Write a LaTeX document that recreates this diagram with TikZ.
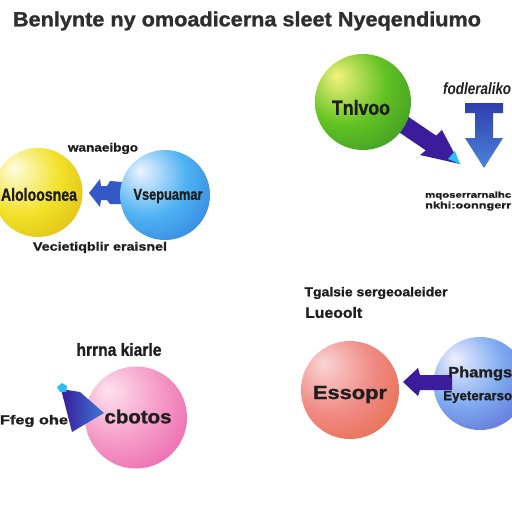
\documentclass[tikz,border=0pt]{standalone}
\usepackage{fontspec}
\setmainfont{Liberation Sans}[BoldFeatures={FakeBold=1.2}]
\usepackage{graphicx}
\colorlet{sphA}{white}
\colorlet{sphB}{gray}
\colorlet{sphC}{black}
\pgfdeclareradialshading[sphA,sphB,sphC]{sphere}{\pgfpoint{-14bp}{14bp}}{color(0bp)=(sphA); color(22bp)=(sphB); color(54bp)=(sphC); color(75bp)=(sphC)}
\definecolor{txt}{HTML}{1E1E1E}
\definecolor{arrpurple}{HTML}{3B1D9C}
\definecolor{arrblue}{HTML}{3558C8}
\definecolor{tipcyan}{HTML}{28C0EE}
\definecolor{yelA}{HTML}{FFFCE0}\definecolor{yelB}{HTML}{F2E22A}\definecolor{yelC}{HTML}{CFA300}
\definecolor{bluA}{HTML}{EEF4FF}\definecolor{bluB}{HTML}{4EB2F2}\definecolor{bluC}{HTML}{1E5FCF}
\definecolor{grnA}{HTML}{F4F27E}\definecolor{grnB}{HTML}{62C222}\definecolor{grnC}{HTML}{1F7A2A}
\definecolor{pnkA}{HTML}{FDE2EE}\definecolor{pnkB}{HTML}{F59AC6}\definecolor{pnkC}{HTML}{E23C9E}
\definecolor{orgA}{HTML}{F9D4D4}\definecolor{orgB}{HTML}{F08A84}\definecolor{orgC}{HTML}{E2561E}
\definecolor{vioA}{HTML}{EEEEFF}\definecolor{vioB}{HTML}{7EAAF0}\definecolor{vioC}{HTML}{4A3EC2}
\definecolor{dnTop}{HTML}{2F3DAE}\definecolor{dnBot}{HTML}{4C84DA}
\definecolor{fanL}{HTML}{3A1A9A}\definecolor{fanR}{HTML}{3A7AD8}
\newcommand\fitw[2]{\resizebox{#1pt}{!}{#2}}
\newcommand\fitwh[3]{\resizebox*{#1pt}{#2pt}{#3}}
\tikzset{
  sph/.style n args={2}{circle, inner sep=0pt, minimum size=#1,
    /utils/exec={\colorlet{sphA}{#2A}\colorlet{sphB}{#2B}\colorlet{sphC}{#2C}},
    shading=sphere},
  lbl/.style={font=\bfseries, text=txt, inner sep=0pt},
}
\begin{document}
\begin{tikzpicture}[x=1pt,y=-1pt]
\useasboundingbox[fill=white] (0,0) rectangle (512,512);

% title
\node[lbl, text=black!82] (title) at (247,21) {\fitwh{468}{19}{Benlynte ny omoadicerna sleet Nyeqendiumo}};

% ---- top left group
\fill[arrblue] (89,193) -- (100,179) -- (101,186) -- (107,186) -- (110,181) -- (122,182)
  -- (122,204) -- (110,204) -- (107,200) -- (101,200) -- (100,207) -- cycle;
\node[sph={89pt}{yel}] (yel) at (38,192.5) {};
\node[sph={90pt}{blu}] (blu) at (165,195) {};
\node[lbl] (yeltxt) at (39,194.5) {\fitwh{76}{13}{Aloloosnea}};
\node[lbl] (blutxt) at (168,196) {\fitwh{69}{14}{Vsepuamar}};
\node[lbl] (toplbl) at (103,148.5) {\fitwh{70}{11}{wanaeibgo}};
\node[lbl] (botlbl) at (100,247.5) {\fitwh{134}{11}{Vecietiqblir eraisnel}};

% ---- top right group
\fill[arrpurple] (394.9,129.4) -- (405.1,114.6) -- (436.1,135.6) -- (442,130) -- (460,164)
  -- (420,155) -- (425.9,150.4) -- cycle;
\fill[tipcyan] (448,159) -- (455,151) -- (460,164) -- cycle;
\node[sph={96pt}{grn}] (grn) at (363,102) {};
\node[lbl] (grntxt) at (361,107.5) {\fitwh{58}{15}{Tnlvoo}};
\shade[top color=dnTop, bottom color=dnBot]
  (465,103) -- (503,103) -- (503,113) -- (493,113) -- (493,138) -- (503,138)
  -- (484,168) -- (465,138) -- (475,138) -- (475,113) -- (465,113) -- cycle;
\node[lbl, anchor=west] (rlbl) at (443,89) {\fitwh{68}{12}{\itshape fodleraliko}};
\node[lbl, anchor=west] (rl1) at (425,195.5) {\fitwh{86}{8}{mqoserrarnalhc}};
\node[lbl, anchor=west] (rl2) at (425,206) {\fitwh{86}{9}{nkhi:oonngerr}};

% ---- bottom left group
\node[sph={102pt}{pnk}] (pnk) at (136,417.5) {};
\shade[left color=fanL, right color=fanR]
  (61,389) -- (80,392) -- (104,413) -- (72,432) -- cycle;
\fill[tipcyan] (57,387) -- (62,383) -- (67,386) -- (66,392) -- (60,392) -- cycle;
\node[lbl] (pnktxt) at (138,416.5) {\fitwh{67}{14}{cbotos}};
\node[lbl] (pnklbl) at (119,349.5) {\fitwh{85}{13}{hrrna kiarle}};
\node[lbl] (pnkl2) at (34,421) {\fitwh{68}{12}{Ffeg ohe}};

% ---- bottom right group
\node[sph={98pt}{org}] (org) at (350,390) {};
\node[sph={93pt}{vio}] (vio) at (480,383.5) {};
\fill[arrpurple] (403,382) -- (418,368) -- (420,375) -- (452,375) -- (452,390)
  -- (420,390) -- (418,396) -- cycle;
\node[lbl] (orgtxt) at (350,394.5) {\fitwh{74}{17}{Essopr}};
\node[lbl, anchor=west] (viot1) at (448,373.5) {\fitwh{64}{14}{Phamgs}};
\node[lbl, anchor=west] (viot2) at (443,397) {\fitwh{69}{12}{Eyeterarso}};
\node[lbl] (brl1) at (376,293) {\fitwh{143}{12}{Tgalsie sergeoaleider}};
\node[lbl, anchor=west] (brl2) at (305,312.5) {\fitwh{57}{11}{Lueoolt}};
\end{tikzpicture}
\end{document}
